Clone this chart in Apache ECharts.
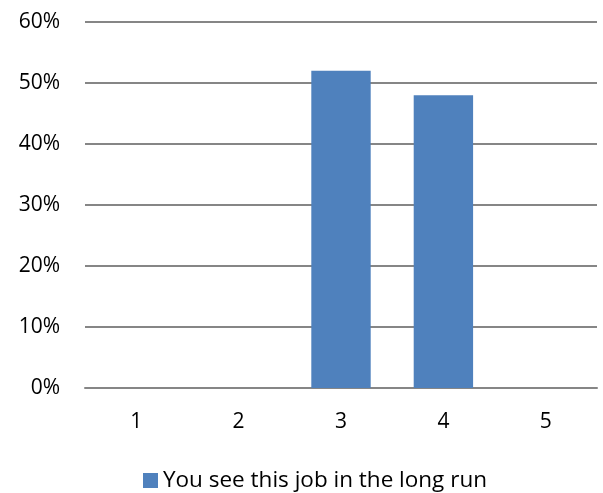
<!DOCTYPE html>
<html>
<head>
<meta charset="utf-8">
<script src="https://cdn.jsdelivr.net/npm/echarts@6/dist/echarts.min.js"></script>
<style>
  html, body { margin: 0; padding: 0; background: #fff; }
  #chart { width: 603px; height: 493px; }
</style>
</head>
<body>
<div id="chart"></div>
<script>
// data
var categories = ['1', '2', '3', '4', '5'];
var seriesName = 'You see this job in the long run';
var values = [0, 0, 52, 48, 0];   // percent
var yTicks = [0, 10, 20, 30, 40, 50, 60];

var myChart = echarts.init(document.getElementById('chart'));
var font = '"Open Sans", "Noto Sans", sans-serif';

var option = {
  animation: false,
  color: ['#4F81BD'],
  textStyle: { fontFamily: font },
  grid: { left: 85, right: 6, top: 22, bottom: 105 },
  legend: {
    top: 464,
    left: 138,
    itemWidth: 15,
    itemHeight: 15,
    itemGap: 7,
    icon: 'rect',
    textStyle: { fontSize: 22.5, color: '#000', fontFamily: font },
    data: [seriesName]
  },
  xAxis: {
    type: 'category',
    data: categories,
    axisTick: { show: false },
    axisLine: { lineStyle: { color: '#868686', width: 2 } },
    axisLabel: { color: '#000', fontSize: 21, margin: 24, fontFamily: font }
  },
  yAxis: {
    type: 'value',
    min: yTicks[0],
    max: yTicks[yTicks.length - 1],
    interval: 10,
    axisLine: { show: false },
    axisTick: { show: false },
    axisLabel: {
      color: '#000', fontSize: 21, margin: 25, fontFamily: font,
      formatter: function (v) { return v + '%'; }
    },
    splitLine: { lineStyle: { color: '#868686', width: 2 } }
  },
  series: [{
    name: seriesName,
    type: 'bar',
    barWidth: '58%',
    data: values
  }]
};

myChart.setOption(option);
</script>
</body>
</html>
